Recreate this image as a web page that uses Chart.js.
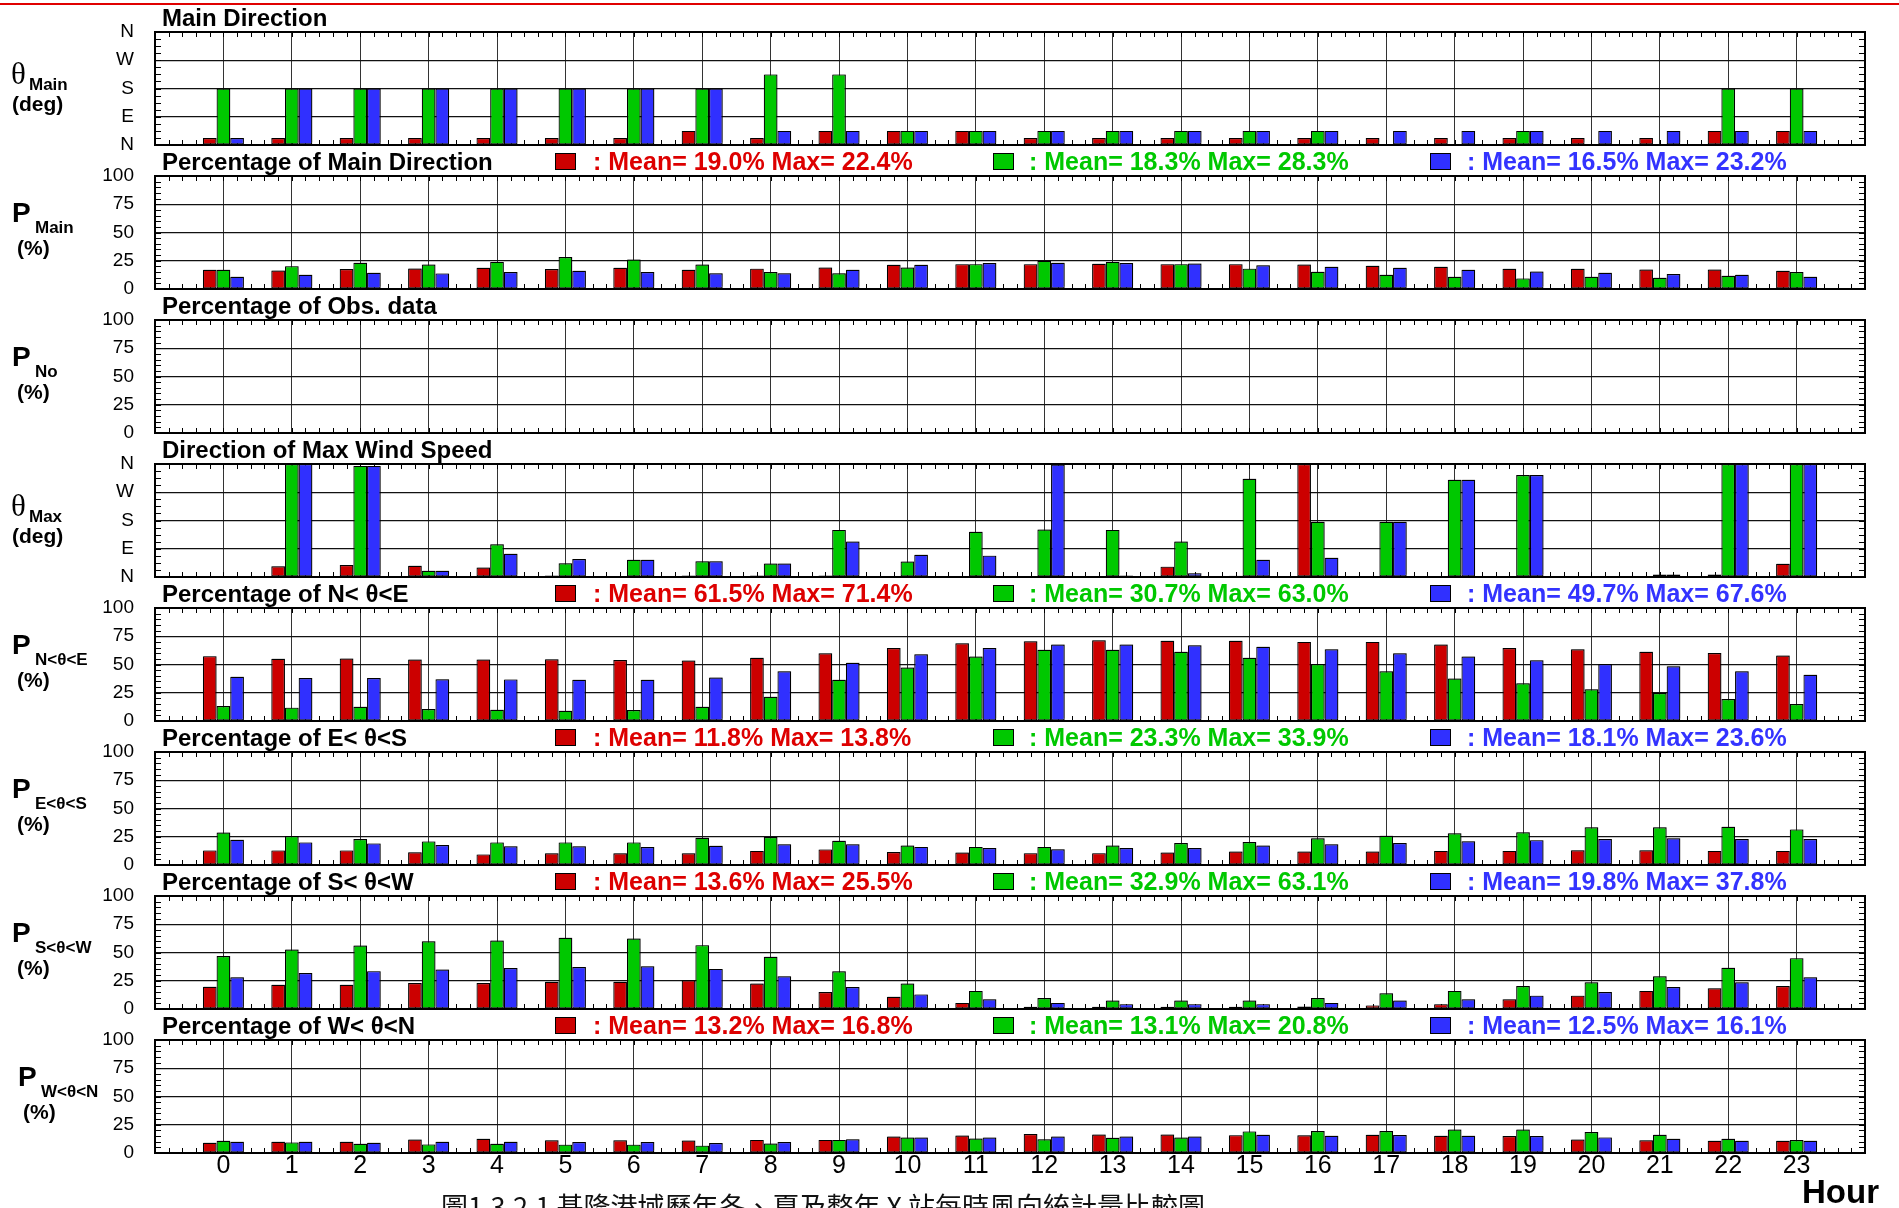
<!DOCTYPE html>
<html>
<head>
<meta charset="utf-8">
<script src="https://cdn.jsdelivr.net/npm/chart.js@4.4.1/dist/chart.umd.min.js"></script>
<style>
  body { margin: 0; width: 1899px; height: 1208px; overflow: hidden; background: #fff; position: relative;
         font-family: "Liberation Sans", Arial, sans-serif; }
  .topline { position: absolute; left: 0; top: 3px; width: 1899px; height: 2px; background: #e00000; }
  canvas { position: absolute; left: 0; }
  .txt { position: absolute; white-space: nowrap; line-height: 1; z-index: 2; }
  .title { font-weight: bold; font-size: 24px; color: #000; }
  .legtxt { font-weight: bold; font-size: 25px; }
  .sq { position: absolute; width: 19px; height: 15px; border: 1.5px solid #000; z-index: 2; }
  .sym { font-weight: bold; font-size: 28px; }
  .theta { font-family: "Liberation Serif", serif; font-size: 31px; }
  .sub { font-weight: bold; font-size: 17px; }
  .unit { font-weight: bold; font-size: 21px; }
  .hour { font-weight: bold; font-size: 33px; }
  .caption { font-family: "Noto Sans CJK TC", sans-serif; font-size: 27px; color: #111; }
</style>
</head>
<body>
<div class="topline"></div>
<script>
const hours = [0,1,2,3,4,5,6,7,8,9,10,11,12,13,14,15,16,17,18,19,20,21,22,23];

// Main Direction (deg)
const mainDirRed   = [22.5,22.5,22.5,22.5,22.5,22.5,22.5,45,22.5,45,45,45,22.5,22.5,22.5,22.5,22.5,22.5,22.5,22.5,22.5,22.5,45,45];
const mainDirGreen = [180,180,180,180,180,180,180,180,225,225,45,45,45,45,45,45,45,0,0,45,0,0,180,180];
const mainDirBlue  = [22.5,180,180,180,180,180,180,180,45,45,45,45,45,45,45,45,45,45,45,45,45,45,45,45];

// Percentage of Main Direction (%)
const pMainRed   = [17.0,16.4,17.6,18.2,18.8,17.6,18.8,17.0,18.0,19.0,21.5,22.0,22.0,22.4,22.0,22.0,21.7,20.5,19.6,17.9,17.9,17.3,17.3,16.1];
const pMainGreen = [17.0,20.2,23.2,21.7,24.0,28.3,26.1,21.7,15.0,14.0,19.0,22.0,25.0,24.0,22.0,18.0,15.2,12.6,10.9,9.4,10.9,10.0,11.7,15.0];
const pMainBlue  = [10.9,12.6,14.4,13.8,15.0,16.1,15.0,14.0,14.0,17.0,21.5,23.0,23.2,23.0,22.5,21.0,19.6,18.8,17.0,15.5,14.4,13.2,12.6,10.9];
const pMainMean = [19.0, 18.3, 16.5];
const pMainMax  = [22.4, 28.3, 23.2];

// Percentage of Obs. data (no bars drawn)
const obsRed   = [];
const obsGreen = [];
const obsBlue  = [];

// Direction of Max Wind Speed (deg)
const maxDirRed   = [0.5,34,38,36,30,5,3,5,5,5,2,0.5,1,2,33,4,360,1,0.5,0.5,0.5,0.5,8,42];
const maxDirGreen = [1,360,354,20,104,44,55,50,43,150,49,144,151,150,113,313,176,176,310,325,3,8,360,360];
const maxDirBlue  = [1,360,354,20,74,57,55,50,43,113,71,68,358,5,12,55,61,176,310,325,3,8,360,360];

// Percentage of N< θ<E
const neRed   = [57.4,55.0,55.3,54.4,54.4,54.7,54.0,53.5,56.0,60.0,64.5,68.8,70.5,71.4,71.0,71.0,70.0,70.0,67.7,64.5,63.4,61.3,60.2,58.0];
const neGreen = [13.2,11.8,12.6,10.6,10.0,9.1,9.7,12.6,21.5,36.5,47.3,57.0,63.0,63.0,61.3,56.0,50.5,44.0,37.6,33.3,28.0,24.7,19.4,15.0];
const neBlue  = [39.1,38.0,38.0,37.0,36.8,36.5,36.5,38.5,44.0,51.6,59.0,64.5,67.6,67.6,67.0,65.6,63.4,60.0,57.0,53.8,50.5,48.4,44.0,40.9];
const neMean = [61.5, 30.7, 49.7];
const neMax  = [71.4, 63.0, 67.6];

// Percentage of E< θ<S
const esRed   = [12.9,12.9,12.9,11.2,9.4,10.3,10.3,10.3,12.5,13.8,11.5,11.0,10.5,10.5,11.0,12.0,12.0,12.0,12.5,12.5,13.0,13.0,12.5,12.5];
const esGreen = [28.8,25.6,22.9,20.9,20.0,20.0,20.0,24.1,24.7,21.5,17.2,16.0,16.0,17.2,19.4,20.4,23.6,25.8,28.0,29.0,33.3,33.3,33.9,31.5];
const esBlue  = [22.4,20.0,19.1,17.6,16.5,16.5,15.9,17.0,18.3,18.3,16.0,15.0,14.0,15.0,15.0,17.2,18.3,19.4,21.0,22.0,23.0,23.6,23.0,23.0];
const esMean = [11.8, 23.3, 18.1];
const esMax  = [13.8, 33.9, 23.6];

// Percentage of S< θ<W
const swRed   = [19.7,21.5,21.5,22.9,22.9,24.1,24.1,25.5,22.6,15.0,10.8,5.4,2.0,2.0,2.0,2.0,2.2,3.2,4.3,8.6,11.8,16.0,18.3,20.4];
const swGreen = [46.8,52.6,56.2,60.0,60.6,63.1,62.4,56.5,46.2,33.3,22.6,16.0,9.7,7.5,7.5,7.5,9.7,14.0,16.0,20.4,23.6,29.0,36.5,45.0];
const swBlue  = [28.0,31.8,33.5,35.0,36.2,37.1,37.8,35.5,29.0,19.4,12.9,8.6,5.4,4.3,4.3,4.3,5.4,7.5,8.6,11.8,15.0,19.4,23.6,28.0];
const swMean = [13.6, 32.9, 19.8];
const swMax  = [25.5, 63.1, 37.8];

// Percentage of W< θ<N
const wnRed   = [9.1,10.0,10.0,12.0,12.6,11.2,11.2,11.0,11.6,11.6,14.6,15.5,16.8,16.4,16.4,15.8,15.6,16.2,15.3,15.0,12.0,11.2,10.9,10.9];
const wnGreen = [10.9,9.4,8.2,7.6,8.2,7.4,7.4,6.5,8.3,11.6,13.7,12.8,12.2,13.4,13.7,19.1,19.4,19.4,20.8,20.8,18.5,16.2,12.6,11.5];
const wnBlue  = [10.0,10.0,9.1,10.0,10.0,9.8,9.8,8.9,9.8,12.2,13.7,13.7,14.6,14.6,14.6,16.1,15.3,15.9,15.3,15.0,13.8,12.6,10.9,10.9];
const wnMean = [13.2, 13.1, 12.5];
const wnMax  = [16.8, 20.8, 16.1];

const dirLabels = ['N', 'E', 'S', 'W', 'N'];
const barColors = ['#cc0000', '#00c800', '#3030ff'];
const legColors = ['#dd0000', '#00c800', '#3333ff'];

const panels = [
  { title: 'Main Direction', sym: 'θ', sub: 'Main', unit: '(deg)', dir: true, data: [mainDirRed, mainDirGreen, mainDirBlue] },
  { title: 'Percentage of Main Direction', sym: 'P', sub: 'Main', unit: '(%)', data: [pMainRed, pMainGreen, pMainBlue], mean: pMainMean, max: pMainMax },
  { title: 'Percentage of Obs. data', sym: 'P', sub: 'No', unit: '(%)', data: [obsRed, obsGreen, obsBlue] },
  { title: 'Direction of Max Wind Speed', sym: 'θ', sub: 'Max', unit: '(deg)', dir: true, data: [maxDirRed, maxDirGreen, maxDirBlue] },
  { title: 'Percentage of N< θ<E', sym: 'P', sub: 'N<θ<E', unit: '(%)', data: [neRed, neGreen, neBlue], mean: neMean, max: neMax },
  { title: 'Percentage of E< θ<S', sym: 'P', sub: 'E<θ<S', unit: '(%)', data: [esRed, esGreen, esBlue], mean: esMean, max: esMax },
  { title: 'Percentage of S< θ<W', sym: 'P', sub: 'S<θ<W', unit: '(%)', data: [swRed, swGreen, swBlue], mean: swMean, max: swMax },
  { title: 'Percentage of W< θ<N', sym: 'P', sub: 'W<θ<N', unit: '(%)', data: [wnRed, wnGreen, wnBlue], mean: wnMean, max: wnMax, shift: 6 }
];

const PLOT_LEFT = 155, PLOT_RIGHT = 1865, FIRST_TOP = 32, STEP = 144, PLOT_H = 113;
const PAD_T = 16, PAD_B = 14, AXIS_W = 60, XLAB_H = 42;
const tickFont = '"Liberation Sans Narrow", "Liberation Sans", Arial, sans-serif';

function addText(cls, text, left, top, color) {
  const d = document.createElement('div');
  d.className = 'txt ' + cls;
  d.textContent = text;
  d.style.left = left + 'px';
  d.style.top = top + 'px';
  if (color) d.style.color = color;
  document.body.appendChild(d);
  return d;
}

// minor ticks, frame and bar shadow
const framePlugin = {
  id: 'frame',
  beforeDatasetsDraw(chart, args, opts) {
    const { ctx, chartArea: a, scales: { x, y } } = chart;
    ctx.save();
    ctx.strokeStyle = '#000';
    ctx.lineWidth = 1;
    ctx.beginPath();
    for (let i = 0; i <= 125; i++) {
      const px = Math.round(x.getPixelForValue(-1 + i * 0.2)) + 0.5;
      ctx.moveTo(px, a.top); ctx.lineTo(px, a.top + 5);
      ctx.moveTo(px, a.bottom); ctx.lineTo(px, a.bottom - 5);
    }
    for (let v = y.min; v <= y.max + 1e-6; v += opts.yStep) {
      const py = Math.round(y.getPixelForValue(v)) + 0.5;
      ctx.moveTo(a.left, py); ctx.lineTo(a.left + 6, py);
      ctx.moveTo(a.right, py); ctx.lineTo(a.right - 6, py);
    }
    ctx.stroke();
    ctx.restore();
    ctx.save();
    ctx.shadowColor = 'rgba(0,0,0,0.3)';
    ctx.shadowOffsetX = 1;
    ctx.shadowOffsetY = -2;
    ctx.shadowBlur = 0;
  },
  afterDatasetsDraw(chart) {
    const { ctx, chartArea: a } = chart;
    ctx.restore();
    ctx.save();
    ctx.strokeStyle = '#000';
    ctx.lineWidth = 2;
    ctx.strokeRect(a.left, a.top, a.right - a.left, a.bottom - a.top);
    ctx.restore();
  }
};

panels.forEach((p, idx) => {
  const top = FIRST_TOP + idx * STEP;
  const last = idx === panels.length - 1;
  const cv = document.createElement('canvas');
  const h = PAD_T + PLOT_H + PAD_B + (last ? XLAB_H : 0);
  cv.width = 1899; cv.height = h;
  cv.style.top = (top - PAD_T) + 'px';
  cv.style.width = '1899px'; cv.style.height = h + 'px';
  document.body.appendChild(cv);

  // title and legend
  addText('title', p.title, 162, top - 26);
  if (p.mean) {
    const sqX = [555, 993, 1430];
    const txX = [593, 1029, 1467];
    for (let s = 0; s < 3; s++) {
      const sq = document.createElement('div');
      sq.className = 'sq';
      sq.style.left = sqX[s] + 'px';
      sq.style.top = (top - 23) + 'px';
      sq.style.background = barColors[s];
      document.body.appendChild(sq);
      addText('legtxt', ': Mean= ' + p.mean[s].toFixed(1) + '% Max= ' + p.max[s].toFixed(1) + '%', txX[s], top - 27, legColors[s]);
    }
  }

  // left axis label
  const sh = p.shift || 0;
  if (p.sym === 'θ') {
    addText('theta', 'θ', 11 + sh, top + 26);
    addText('sub', p.sub, 29 + sh, top + 44);
  } else {
    addText('sym', 'P', 12 + sh, top + 23);
    addText('sub', p.sub, 35 + sh, top + 43);
  }
  addText('unit', p.unit, (p.sym === 'θ' ? 12 : 17) + sh, top + 61);

  const datasets = p.data.map((arr, s) => ({
    data: arr.map((v, i) => ({ x: hours[i], y: v })),
    backgroundColor: barColors[s],
    borderColor: '#000',
    borderWidth: 1.2,
    borderSkipped: false,
    categoryPercentage: 0.6,
    barPercentage: 1.0
  }));

  new Chart(cv, {
    type: 'bar',
    data: { datasets },
    plugins: [framePlugin],
    options: {
      responsive: false,
      animation: false,
      events: [],
      layout: { padding: { left: PLOT_LEFT - AXIS_W, right: 1899 - PLOT_RIGHT, top: PAD_T, bottom: PAD_B } },
      plugins: {
        legend: { display: false },
        tooltip: { enabled: false },
        frame: { yStep: p.dir ? 22.5 : 5 }
      },
      scales: {
        x: {
          type: 'linear',
          min: -1, max: 24,
          offset: false,
          afterFit(scale) {
            scale.height = last ? XLAB_H : 0;
            scale.paddingLeft = 0; scale.paddingRight = 0;
          },
          ticks: {
            display: last, stepSize: 1, autoSkip: false, maxRotation: 0, padding: -2,
            color: '#000', font: { size: 25, family: tickFont },
            callback: v => (v >= 0 && v <= 23) ? String(v) : ''
          },
          grid: { offset: false, color: '#333', lineWidth: 1, drawTicks: false },
          border: { display: false }
        },
        y: {
          min: 0, max: p.dir ? 360 : 100,
          afterFit(scale) {
            scale.width = AXIS_W;
            scale.paddingTop = 0; scale.paddingBottom = 0;
          },
          ticks: {
            stepSize: p.dir ? 90 : 25, padding: 21, color: '#000',
            font: { size: 19, family: tickFont },
            callback: v => p.dir ? dirLabels[Math.round(v / 90)] : String(v)
          },
          grid: { color: '#111', lineWidth: 1.3, drawTicks: false },
          border: { display: false }
        }
      }
    }
  });
});

addText('hour', 'Hour', 1802, 1175);
addText('caption', '圖1.3.2.1  基隆港域歷年冬、夏及整年 X 站每時風向統計量比較圖', 441, 1192);
</script>
</body>
</html>
